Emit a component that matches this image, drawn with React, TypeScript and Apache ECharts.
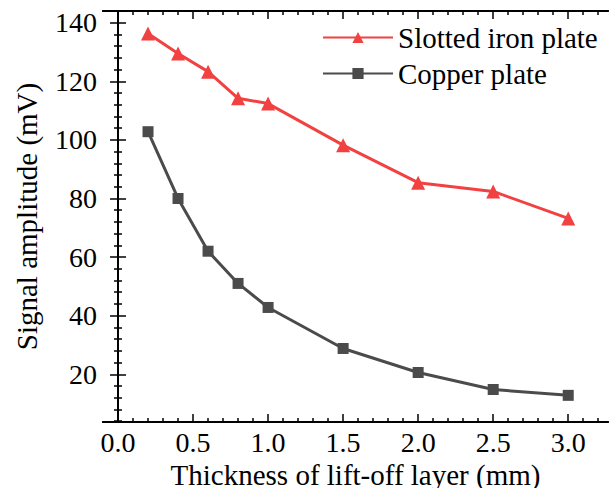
import React, { useEffect, useRef } from "react";
import * as echarts from "echarts";

const thickness = [0.2, 0.4, 0.6, 0.8, 1.0, 1.5, 2.0, 2.5, 3.0];
const ironValues = [136.3, 129.5, 123.3, 114.2, 112.4, 98.2, 85.4, 82.4, 73.2];
const copperValues = [102.8, 80.0, 62.0, 51.0, 42.8, 28.8, 20.6, 14.8, 12.8];
const xTickLabels = [0.0, 0.5, 1.0, 1.5, 2.0, 2.5, 3.0];
const yTickLabels = [20, 40, 60, 80, 100, 120, 140];
const seriesNames = ["Slotted iron plate", "Copper plate"];

const X_MIN = -0.1;
const X_MAX = 3.265;
const Y_MIN = 3.7;
const Y_MAX = 144;

function minorTicks(majors: number[], parts: number, lo: number, hi: number) {
  const step = (majors[1] - majors[0]) / parts;
  const out: number[] = [];
  const start = majors[0] - Math.ceil((majors[0] - lo) / step) * step;
  for (let v = start; v < hi; v += step) {
    const r = Math.round(v * 1000) / 1000;
    if (r > lo && r < hi && !majors.some((m) => Math.abs(m - r) < 1e-6)) out.push(r);
  }
  return out;
}

const FONT = "Liberation Serif";
const TICK_FS = 28;
const NAME_FS = 29;

export default function App() {
  const ref = useRef<HTMLDivElement>(null);
  useEffect(() => {
    if (!ref.current) return;
    const chart = echarts.init(ref.current, undefined, { renderer: "svg" });
    const xMinor = minorTicks(xTickLabels, 5, X_MIN, X_MAX);
    const yMinor = minorTicks(yTickLabels, 5, Y_MIN, Y_MAX);
    const axisLine = { show: true, lineStyle: { color: "#000", width: 2 } };
    const baseX = (position: string, ticks: number[], len: number, labels: boolean) => ({
      type: "value",
      position,
      min: X_MIN,
      max: X_MAX,
      axisLine,
      splitLine: { show: false },
      axisTick: {
        show: true,
        inside: true,
        length: len,
        customValues: ticks,
        lineStyle: { color: "#000", width: 1.5 },
      },
      axisLabel: labels
        ? {
            show: true,
            customValues: xTickLabels,
            formatter: (v: number) => v.toFixed(1),
            fontFamily: FONT,
            fontSize: TICK_FS,
            color: "#000",
            margin: 6,
          }
        : { show: false },
    });
    const baseY = (position: string, ticks: number[], len: number, labels: boolean) => ({
      type: "value",
      position,
      min: Y_MIN,
      max: Y_MAX,
      axisLine,
      splitLine: { show: false },
      axisTick: {
        show: true,
        inside: true,
        length: len,
        customValues: ticks,
        lineStyle: { color: "#000", width: 1.5 },
      },
      axisLabel: labels
        ? {
            show: true,
            customValues: yTickLabels,
            formatter: (v: number) => String(v),
            fontFamily: FONT,
            fontSize: TICK_FS,
            color: "#000",
            margin: 6,
          }
        : { show: false },
    });
    const x0: any = baseX("bottom", xTickLabels, 8, true);
    x0.name = "Thickness of lift-off layer (mm)";
    x0.nameLocation = "middle";
    x0.nameGap = 37;
    x0.nameTextStyle = { fontFamily: FONT, fontSize: NAME_FS, color: "#000" };
    const y0: any = baseY("left", yTickLabels, 8, true);
    y0.name = "Signal amplitude (mV)";
    y0.nameLocation = "middle";
    y0.nameGap = 62;
    y0.nameTextStyle = { fontFamily: FONT, fontSize: NAME_FS, color: "#000" };

    chart.setOption({
      animation: false,
      backgroundColor: "#fff",
      textStyle: { fontFamily: FONT },
      grid: { left: 103, right: 1, top: 11, bottom: 66, containLabel: false, outerBoundsMode: "none" },
      legend: {
        orient: "vertical",
        left: 317,
        top: 18,
        itemWidth: 70,
        itemHeight: 14,
        itemGap: 7,
        data: seriesNames,
        textStyle: { fontFamily: FONT, fontSize: NAME_FS, color: "#000" },
      },
      xAxis: [
        x0,
        baseX("bottom", xMinor, 4, false),
        baseX("top", xTickLabels, 8, false),
        baseX("top", xMinor, 4, false),
      ],
      yAxis: [
        y0,
        baseY("left", yMinor, 4, false),
        baseY("right", yTickLabels, 8, false),
        baseY("right", yMinor, 4, false),
      ],
      series: [
        {
          name: seriesNames[0],
          type: "line",
          xAxisIndex: 0,
          yAxisIndex: 0,
          data: thickness.map((x, i) => [x, ironValues[i]]),
          symbol: "triangle",
          symbolSize: 14,
          color: "#F24141",
          lineStyle: { width: 3, color: "#F24141" },
          itemStyle: { color: "#F24141" },
        },
        {
          name: seriesNames[1],
          type: "line",
          xAxisIndex: 0,
          yAxisIndex: 0,
          data: thickness.map((x, i) => [x, copperValues[i]]),
          symbol: "rect",
          symbolSize: 11,
          color: "#4B4B4B",
          lineStyle: { width: 3, color: "#4B4B4B" },
          itemStyle: { color: "#4B4B4B" },
        },
      ],
    });
    return () => chart.dispose();
  }, []);
  return <div ref={ref} style={{ width: 609, height: 488, position: "absolute", left: 0, top: 0 }} />;
}
